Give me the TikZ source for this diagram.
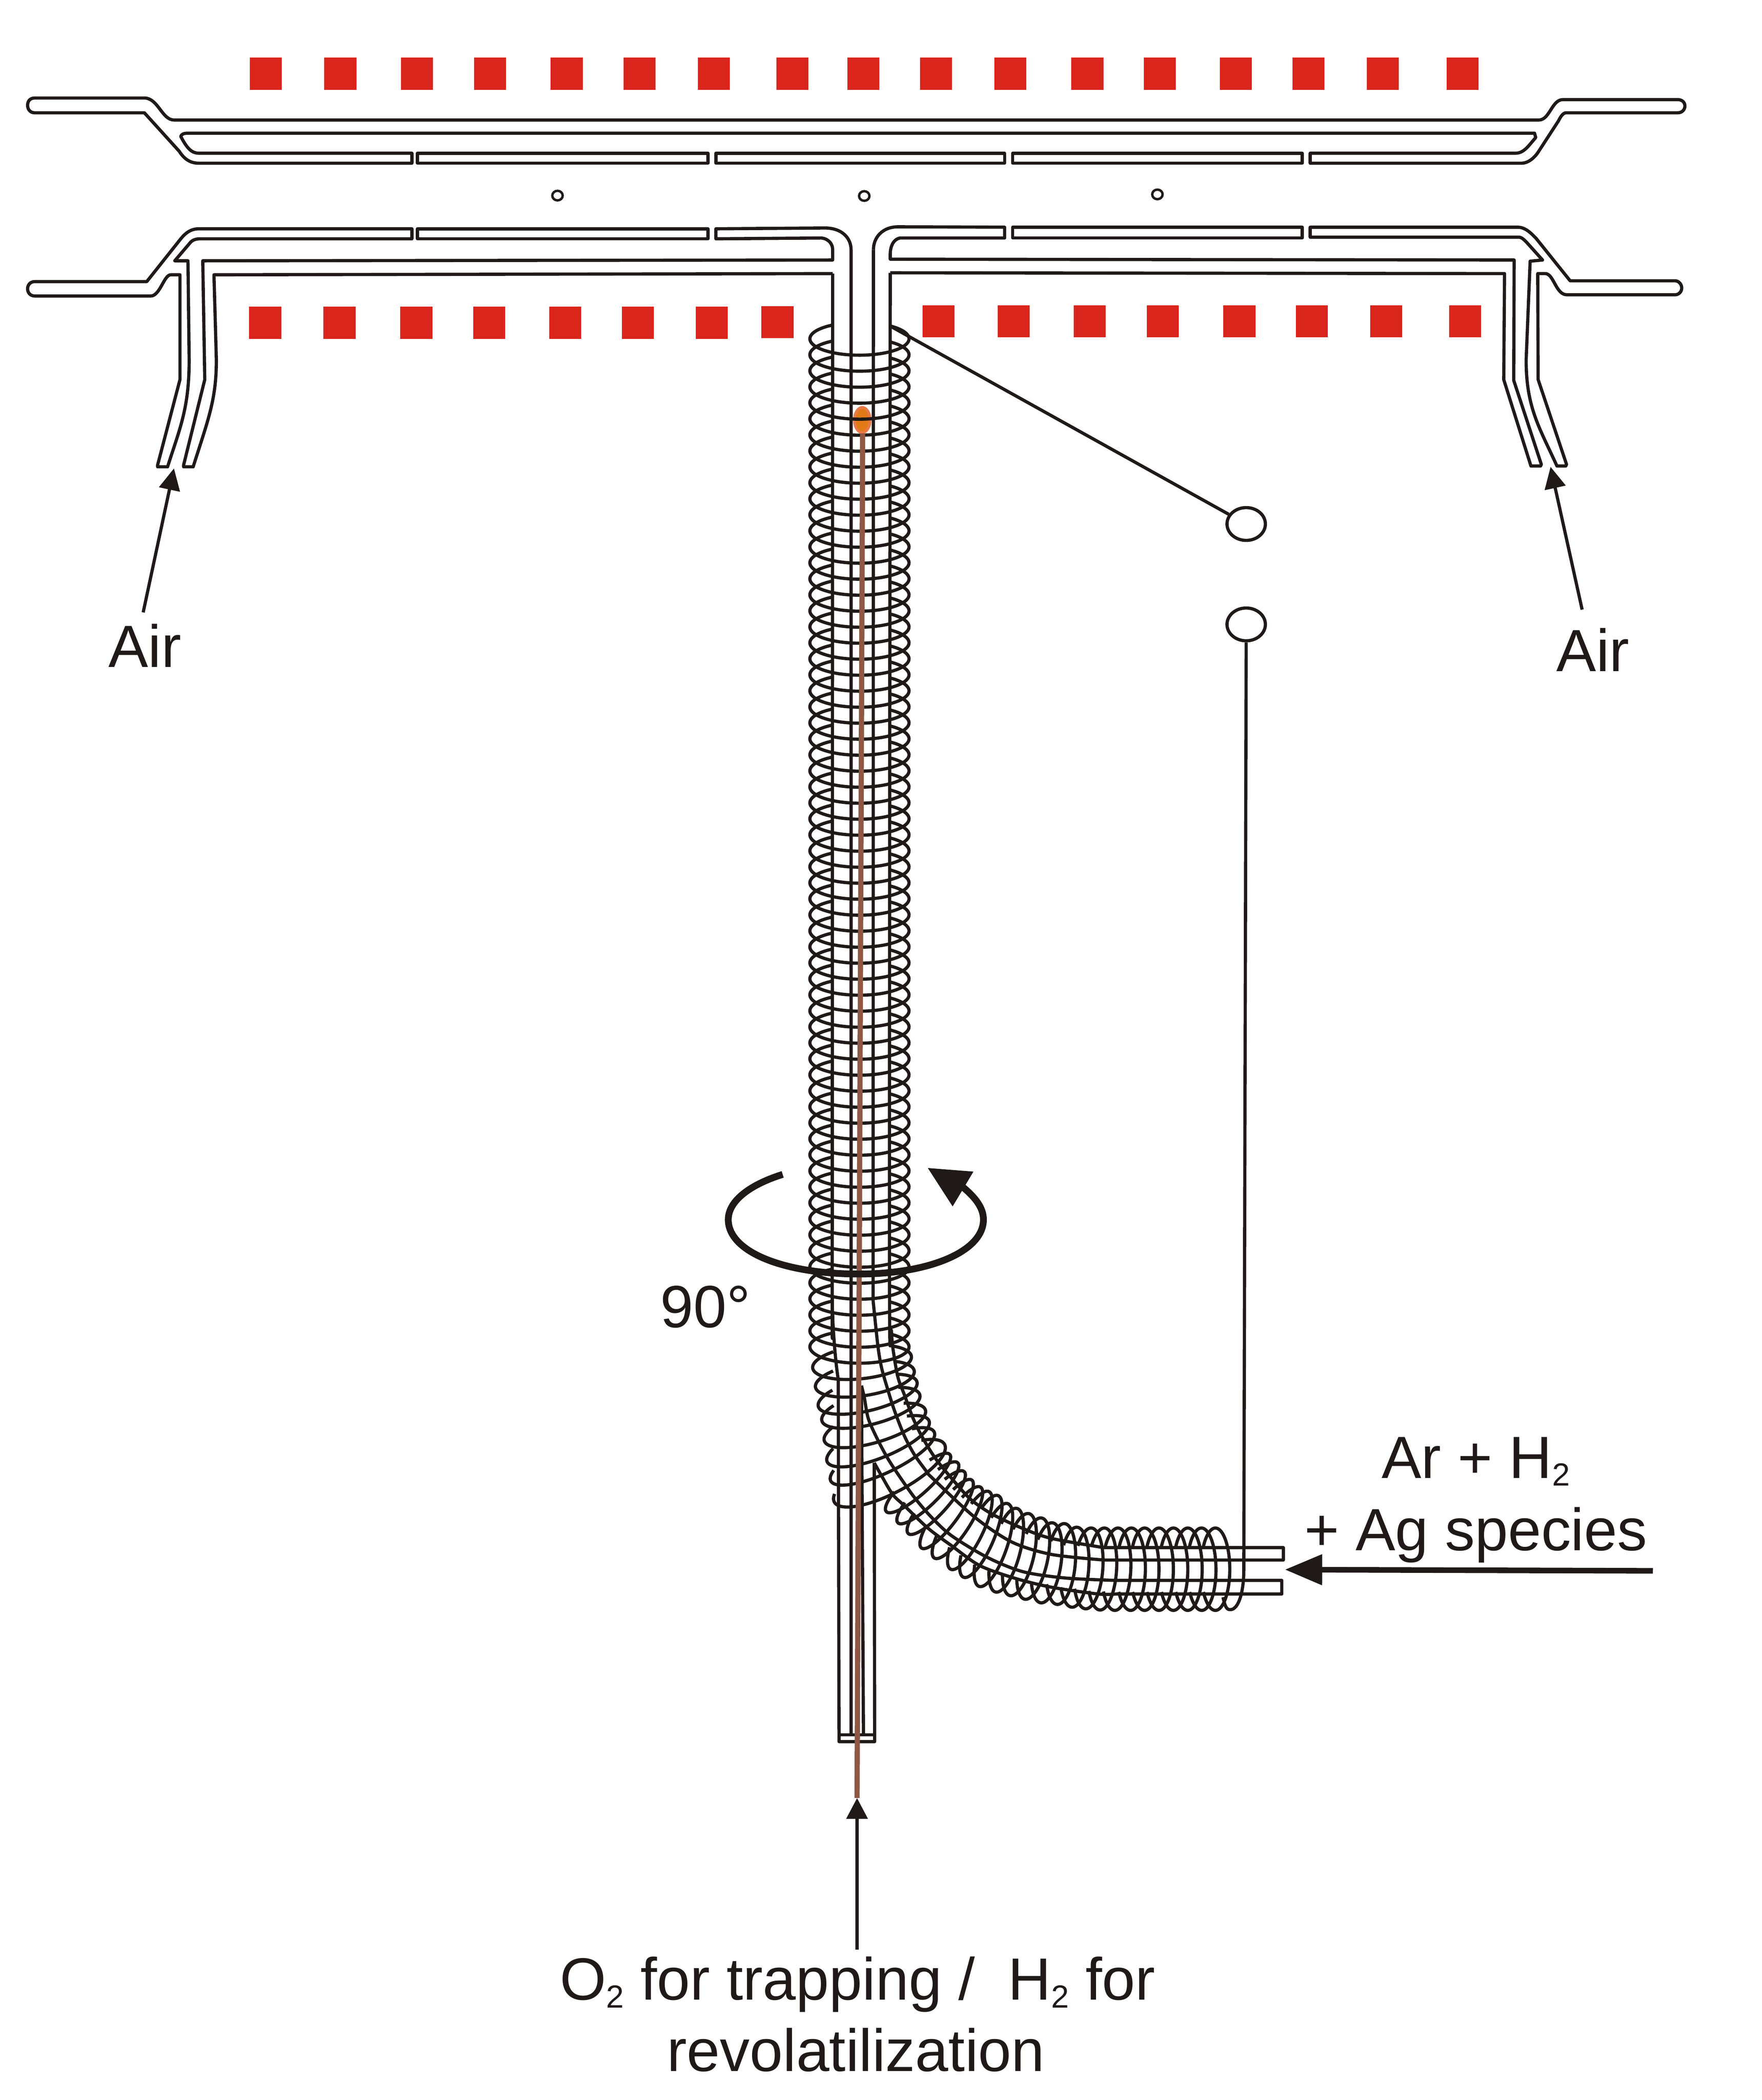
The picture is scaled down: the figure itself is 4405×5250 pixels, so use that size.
\documentclass[tikz,border=0pt]{standalone}
\usepackage{fontspec}
\setmainfont{Liberation Sans}
\usetikzlibrary{arrows.meta,shapes.geometric}
\definecolor{ink}{HTML}{1F1A17}
\definecolor{heater}{HTML}{DA251C}
\definecolor{fiber}{HTML}{8E5845}
\definecolor{blobout}{HTML}{E87A48}
\definecolor{blobin}{HTML}{E37917}
\newcommand{\lowtwo}{\raisebox{-1.9pt}{\fontsize{8}{8}\selectfont 2}}
% one turn of the coil: x1,y1 (left end), x2,y2 (right end), bulge, left stub
\newcommand{\coilturn}[6]{%
  \pgfmathsetmacro{\tcx}{((#1)+(#3))/2}
  \pgfmathsetmacro{\tcy}{((#2)+(#4))/2}
  \pgfmathsetmacro{\tsx}{((#3)-(#1))/2}
  \pgfmathsetmacro{\tsy}{((#4)-(#2))/2}
  \pgfmathsetmacro{\trad}{veclen(\tsx,\tsy)}
  \pgfmathsetmacro{\tfx}{-\tsy/\trad*#5}
  \pgfmathsetmacro{\tfy}{\tsx/\trad*#5}
  \pgfmathsetmacro{\tsa}{-acos(1-47/\trad)}
  \pgfmathsetmacro{\tsb}{180+acos(1-#6/\trad)}
  \draw[wall] plot[domain=\tsa:\tsb,samples=36,smooth]
    ({\tcx+\tsx*cos(\x)+\tfx*sin(\x)},{\tcy+\tsy*cos(\x)+\tfy*sin(\x)});
}
\begin{document}
\begin{tikzpicture}[x=0.1pt,y=-0.1pt,
    wall/.style={draw=ink,line width=0.8pt,line join=round},
    coldot/.style={ellipse,draw=ink,line width=0.6pt,inner sep=0pt,minimum width=2.6pt,minimum height=2.4pt},
    term/.style={ellipse,draw=ink,line width=0.8pt,inner sep=0pt,minimum width=9.6pt,minimum height=8.2pt},
    lbl/.style={anchor=base,inner sep=0pt,text=ink,font=\fontsize{14.9}{14.9}\selectfont},
    thin arrow/.style={draw=ink,fill=ink,line width=0.8pt,-{Triangle[length=5.4pt,width=5.2pt]}}]
  \useasboundingbox (0,0) rectangle (4405,5250);

  % heater blocks
  \foreach \hx in {625,811,1003,1185,1377,1559,1745,1941,2119,2300,2486,2679,2860,3050,3232,3418,3617}
    \fill[heater] (\hx,144) rectangle +(80,81);
  \foreach \hx in {623,809,1001,1183,1373,1555,1740}
    \fill[heater] (\hx,766) rectangle +(80,81);
  \fill[heater] (1904,765) rectangle +(80,80);
  \foreach \hx in {2307,2495,2685,2867,3059,3240,3426,3623}
    \fill[heater] (\hx,763) rectangle +(80,80);

  % upper tube
  \draw[wall] (361,245) -- (87,245) .. controls (75,245) and (69,253) .. (69,263)
    .. controls (69,273) and (75,282) .. (87,282) -- (361,282) -- (448,378)
    .. controls (462,400) and (478,408) .. (497,408) -- (1030,408) -- (1030,383) -- (497,383)
    .. controls (480,383) and (468,372) .. (452,341) .. controls (454,336) and (458,333) .. (470,333)
    -- (3837,333) -- (3840,344) .. controls (3825,360) and (3812,383) .. (3790,383) -- (3276,383)
    -- (3276,408) -- (3805,408) .. controls (3820,408) and (3835,396) .. (3845,382) -- (3897,302)
    .. controls (3902,292) and (3908,282) .. (3916,282) -- (4195,282) .. controls (4206,282) and (4213,274) .. (4213,265)
    .. controls (4213,256) and (4206,249) .. (4195,249) -- (3908,249)
    .. controls (3880,249) and (3875,300) .. (3848,300) -- (435,300)
    .. controls (405,300) and (395,245) .. (361,245) -- cycle;
  \foreach \sa/\sb in {1044/1770,1790/2512,2532/3256}
    \draw[wall] (\sa,383) rectangle (\sb,408);

  % lower tube, left part
  \draw[wall] (1030,572) -- (497,572) .. controls (475,572) and (462,585) .. (452,597) -- (367,704) -- (87,704)
    .. controls (75,704) and (69,713) .. (69,722) .. controls (69,731) and (75,740) .. (87,740) -- (377,740)
    .. controls (400,740) and (410,687) .. (427,687) -- (450,687) -- (450,949) -- (394,1163) -- (394,1167) -- (419,1167)
    .. controls (450,1070) and (473,1020) .. (473,900) -- (470,652) -- (437,652) -- (477,605)
    .. controls (482,600) and (490,597) .. (500,597) -- (1030,597) -- cycle;
  \draw[wall] (1044,572) rectangle (1770,597);
  \draw[wall] (2128,4337) -- (2128,624) .. controls (2128,595) and (2105,570) .. (2063,570) -- (1790,572) -- (1790,597)
    -- (2054,595) .. controls (2072,597) and (2082,610) .. (2082,624) -- (2082,650) -- (507,652) -- (512,949) -- (459,1163)
    -- (459,1167) -- (483,1167) .. controls (520,1050) and (541,1000) .. (541,900) -- (535,687) -- (2082,684);

  % lower tube, right part
  \draw[wall] (3276,568) -- (3795,568) .. controls (3815,568) and (3830,585) .. (3841,596) -- (3926,702) -- (4188,702)
    .. controls (4198,702) and (4205,711) .. (4205,720) .. controls (4205,729) and (4198,737) .. (4188,737) -- (3918,737)
    .. controls (3890,737) and (3885,684) .. (3864,684) -- (3845,684) -- (3846,949) -- (3917,1161) -- (3915,1165) -- (3893,1165)
    .. controls (3850,1070) and (3816,1020) .. (3816,900) -- (3826,653) -- (3857,650) -- (3821,610)
    .. controls (3812,600) and (3805,593) .. (3798,593) -- (3276,593) -- cycle;
  \draw[wall] (2532,568) rectangle (3256,595);
  \draw[wall] (2184,624) .. controls (2184,595) and (2205,567) .. (2246,567) -- (2512,568) -- (2512,595) -- (2251,595)
    .. controls (2235,597) and (2226,615) .. (2226,635) -- (2226,648) -- (3786,650) -- (3785,951) -- (3854,1161) -- (3852,1165)
    -- (3828,1165) -- (3760,949) -- (3762,684) -- (2226,682);

  % small holes between the tubes
  \node[coldot] (holeA) at (1394,489) {};
  \node[coldot] (holeB) at (2161,490) {};
  \node[coldot] (holeC) at (2894,486) {};

  % sample spot
  \fill[blobout] (2156,1050) ellipse [x radius=23,y radius=35];
  \fill[blobin] (2156,1050) ellipse [x radius=16,y radius=28];

  % column walls down the coil
  \draw[wall] plot[smooth] coordinates {(2082,684) (2081,3150) (2082,3286) (2086,3357) (2091,3411) (2096,3450)} -- (2098,4354) -- (2187,4354) -- (2186,3657);
  \draw[wall] (2098,4337) -- (2187,4337);
  \draw[wall] (2159,4337) -- (2154,3464);
  \draw[wall] (2184,624) -- (2183,3250);
  \draw[wall] plot[smooth] coordinates {(2183,3250) (2195,3364) (2204,3418) (2218,3468) (2236,3525) (2261,3589) (2286,3636) (2314,3675) (2329,3693) (2436,3792) (2530,3855) (2629,3886) (2760,3900)} -- (3209,3900) -- (3209,3869) -- (2760,3869);
  \draw[wall] plot[smooth] coordinates {(2226,682) (2224,3150) (2229,3329) (2236,3393) (2246,3446) (2261,3486) (2282,3543) (2304,3589) (2339,3646) (2389,3707) (2429,3750) (2482,3786) (2557,3821) (2629,3846) (2760,3869)};
  \draw[wall] plot[smooth] coordinates {(2154,3464) (2161,3493) (2171,3546) (2193,3596) (2218,3643) (2243,3682) (2286,3743) (2329,3793) (2379,3839) (2468,3893) (2557,3929) (2664,3945) (2790,3951)} -- (3205,3951) -- (3205,3985) -- (2790,3985);
  \draw[wall] plot[smooth] coordinates {(2186,3657) (2204,3689) (2232,3736) (2261,3764) (2321,3821) (2379,3864) (2450,3914) (2539,3946) (2629,3968) (2746,3985) (2790,3985)};

  % coil, straight part
  \foreach \n in {0,...,63}{
    \coilturn{2025}{847+40*\n}{2273}{847+40*\n}{41}{57}
  }
  % coil, bend
  \foreach \xa/\ya/\xb/\yb/\bu/\st in {
      2032/3420/2279/3391/41/56, 2039/3468/2286/3427/41/50, 2046/3516/2293/3455/41/44,
      2055/3552/2300/3487/41/38, 2061/3602/2314/3525/42/32, 2068/3654/2323/3552/42/26,
      2077/3702/2336/3580/42/18, 2086/3755/2362/3611/50/10, 2216/3779/2375/3636/28/48,
      2245/3807/2395/3657/28/48, 2271/3834/2411/3679/28/48, 2304/3870/2430/3700/28/48,
      2336/3895/2452/3718/30/48, 2377/3923/2473/3729/32/48, 2409/3943/2496/3739/33/48,
      2448/3966/2520/3759/34/48, 2489/3980/2543/3771/35/48, 2525/3989/2573/3784/36/48,
      2562/3998/2605/3795/36/48, 2602/4007/2632/3807/36/48, 2643/4011/2662/3809/36/48,
      2680/4018/2693/3818/36/48, 2714/4022/2729/3820/36/48, 2750/4025/2762/3820/36/46,
      2787/4026/2796/3820/36/46, 2827/4026/2829/3820/36/46, 2862/4026/2862/3820/36/46,
      2898/4026/2898/3820/36/46, 2934/4026/2934/3820/36/46, 2970/4026/2970/3820/36/46,
      3005/4026/3004/3820/36/46, 3039/4026/3039/3820/36/46}{
    \coilturn{\xa}{\ya}{\xb}{\yb}{\bu}{\st}
  }

  % brown capillary
  \draw[fiber,line width=1.3pt] (2157,1084) -- (2143,4495);

  % terminals and leads
  \node[term] (termA) at (3116,1310) {};
  \node[term] (termB) at (3116,1561) {};
  \coordinate (coilTop) at (2231,818);
  \draw[wall] (coilTop) -- (termA);
  \draw[wall] (termB.south) -- (3110,3927) .. controls (3110,3975) and (3098,4026) .. (3075,4024)
    .. controls (3065,4024) and (3062,4010) .. (3058,3993);

  % rotation sign
  \draw[draw=ink,line width=1.7pt] (1957,2936) .. controls (1880,2960) and (1821,3000) .. (1821,3049)
    .. controls (1821,3130) and (1960,3185) .. (2148,3185)
    .. controls (2320,3185) and (2459,3130) .. (2459,3049)
    .. controls (2459,3020) and (2440,2995) .. (2408,2968);
  \coordinate (spinTip) at (2320,2920);
  \fill[ink] (spinTip) -- (2434,2929) -- (2382,3016) -- cycle;
  \node[lbl] (turnlabel) at (1764,3319) {90°};

  % labels
  \node[lbl] (airL) at (362,1668) {Air};
  \node[lbl] (airR) at (3983,1678) {Air};
  \coordinate (airLtop) at (358,1531);
  \coordinate (airRtop) at (3956,1524);
  \coordinate (inletL) at (435,1171);
  \coordinate (inletR) at (3877,1167);
  \draw[thin arrow] (airLtop) -- (inletL);
  \draw[thin arrow] (airRtop) -- (inletR);

  \node[lbl] (gasA) at (3690,3695) {Ar + H\lowtwo};
  \node[lbl] (gasB) at (3690,3876) {+ Ag species};
  \coordinate (gasTail) at (4133,3927);
  \coordinate (gasTip) at (3213,3924);
  \draw[draw=ink,line width=1.4pt,-{Triangle[length=9.3pt,width=7.4pt]}] (gasTail) -- (gasTip);

  \node[lbl] (trapA) at (2144,5000) {O\lowtwo{} for trapping /\ \ H\lowtwo{} for};
  \node[lbl] (trapB) at (2140,5178) {revolatilization};
  \coordinate (capEnd) at (2143,4495);
  \draw[draw=ink,line width=0.9pt,-{Triangle[length=5.2pt,width=5.2pt]},shorten <=1.6pt] (trapA.north -| capEnd) -- (capEnd);
\end{tikzpicture}
\end{document}
